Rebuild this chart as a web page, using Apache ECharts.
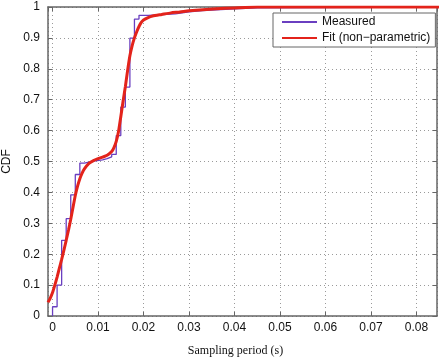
<!DOCTYPE html>
<html><head><meta charset="utf-8">
<script src="https://cdn.jsdelivr.net/npm/echarts@6/dist/echarts.min.js"></script>
<style>html,body{margin:0;padding:0;background:#fff}#c{width:442px;height:357px}</style>
</head><body><div id="c"></div>
<script>
// Measured empirical CDF: [sampling period (s), CDF]
const measuredX = [0, 0, 0.001, 0.002, 0.003, 0.004, 0.005, 0.006, 0.007, 0.009, 0.011, 0.012, 0.013, 0.014, 0.015, 0.016, 0.017, 0.018, 0.019, 0.021, 0.024, 0.027, 0.030, 0.033, 0.036, 0.040, 0.045, 0.085];
const measuredY = [0, 0.03, 0.10, 0.245, 0.315, 0.392, 0.458, 0.495, 0.501, 0.505, 0.509, 0.515, 0.523, 0.584, 0.676, 0.741, 0.899, 0.961, 0.973, 0.975, 0.978, 0.984, 0.988, 0.991, 0.994, 0.997, 1.0, 1.0];
// Non-parametric fit
const fitX = [-0.001, -0.0005, 0, 0.0005, 0.001, 0.0015, 0.002, 0.0025, 0.003, 0.0035, 0.004, 0.0045, 0.005, 0.0055, 0.006, 0.0065, 0.007, 0.008, 0.009, 0.010, 0.011, 0.012, 0.013, 0.0135, 0.014, 0.0145, 0.015, 0.0155, 0.016, 0.0165, 0.017, 0.0175, 0.018, 0.0185, 0.019, 0.0195, 0.020, 0.021, 0.022, 0.024, 0.026, 0.028, 0.030, 0.033, 0.036, 0.040, 0.045, 0.085];
const fitY = [0.044, 0.058, 0.076, 0.100, 0.126, 0.155, 0.183, 0.213, 0.245, 0.278, 0.313, 0.352, 0.390, 0.420, 0.444, 0.462, 0.476, 0.494, 0.503, 0.509, 0.514, 0.520, 0.532, 0.545, 0.565, 0.597, 0.645, 0.695, 0.742, 0.795, 0.842, 0.875, 0.900, 0.920, 0.937, 0.950, 0.958, 0.966, 0.971, 0.976, 0.981, 0.984, 0.988, 0.991, 0.994, 0.997, 1.0, 1.0];
const seriesNames = ['Measured', 'Fit (non\u2212parametric)'];
const xLabel = 'Sampling period (s)';
const yLabel = 'CDF';

const measured = measuredX.map((x, i) => [x, measuredY[i]]);
const fit = fitX.map((x, i) => [x, fitY[i]]);

const axisColor = '#666';
const gridLine = { show: true, lineStyle: { color: '#9a9a9a', type: [1, 3], width: 1 } };
const fmtX = v => (Math.abs(Math.round(v * 100) - v * 100) < 1e-6) ? String(Math.round(v * 100) / 100) : '';

const chart = echarts.init(document.getElementById('c'), null, { renderer: 'canvas' });
chart.setOption({
  animation: false,
  backgroundColor: '#fff',
  grid: { left: 48, right: 5, top: 7, bottom: 41, containLabel: false, outerBoundsMode: 'none' },
  legend: {
    orient: 'vertical', left: 273, top: 13,
    itemWidth: 35, itemHeight: 12, itemGap: 4,
    itemStyle: { opacity: 0, borderWidth: 0 },
    padding: [3, 5, 3, 8],
    backgroundColor: '#fff', borderColor: axisColor, borderWidth: 1,
    textStyle: { fontFamily: 'Liberation Sans, Arial, sans-serif', fontSize: 12, color: '#111' },
    data: seriesNames
  },
  xAxis: [{
    type: 'value', min: -0.001, max: 0.0845, splitNumber: 8, minInterval: 0.01, maxInterval: 0.01,
    position: 'bottom',
    name: xLabel, nameLocation: 'middle', nameGap: 29,
    nameTextStyle: { fontFamily: 'Liberation Serif, Times New Roman, serif', fontSize: 12, color: '#111', padding: [0, 14, 0, 0] },
    axisLine: { show: true, onZero: false, lineStyle: { color: axisColor, width: 1.5 } },
    axisTick: { show: true, inside: true, length: 4, lineStyle: { color: axisColor } },
    axisLabel: { showMinLabel: false, showMaxLabel: false, formatter: fmtX, margin: 6, fontFamily: 'Liberation Sans, Arial, sans-serif', fontSize: 12, color: '#111' },
    splitLine: gridLine
  }, {
    type: 'value', min: -0.001, max: 0.0845, splitNumber: 8, minInterval: 0.01, maxInterval: 0.01,
    position: 'top',
    axisLine: { show: true, onZero: false, lineStyle: { color: axisColor, width: 1.5 } },
    axisTick: { show: true, inside: true, length: 4, lineStyle: { color: axisColor } },
    axisLabel: { show: false }, splitLine: { show: false }
  }],
  yAxis: [{
    type: 'value', min: 0, max: 1, interval: 0.1, position: 'left',
    name: yLabel, nameLocation: 'middle', nameGap: 32,
    nameTextStyle: { fontFamily: 'Liberation Sans, Arial, sans-serif', fontSize: 12, color: '#111' },
    axisLine: { show: true, onZero: false, lineStyle: { color: axisColor, width: 1.5 } },
    axisTick: { show: true, inside: true, length: 4, lineStyle: { color: axisColor } },
    axisLabel: { margin: 8, fontFamily: 'Liberation Sans, Arial, sans-serif', fontSize: 12, color: '#111' },
    splitLine: gridLine
  }, {
    type: 'value', min: 0, max: 1, interval: 0.1, position: 'right',
    axisLine: { show: true, onZero: false, lineStyle: { color: axisColor, width: 1.5 } },
    axisTick: { show: true, inside: true, length: 4, lineStyle: { color: axisColor } },
    axisLabel: { show: false }, splitLine: { show: false }
  }],
  series: [{
    name: seriesNames[0], type: 'line', step: 'end', data: measured,
    xAxisIndex: 0, yAxisIndex: 0,
    symbol: 'none', lineStyle: { color: '#6a3fc0', width: 1.3 }, itemStyle: { color: '#6a3fc0' },
    z: 3
  }, {
    name: seriesNames[1], type: 'line', data: fit, smooth: 0.2,
    xAxisIndex: 0, yAxisIndex: 0,
    symbol: 'none', lineStyle: { color: '#e3231b', width: 3 }, itemStyle: { color: '#e3231b' },
    z: 4
  }]
});
</script></body></html>
